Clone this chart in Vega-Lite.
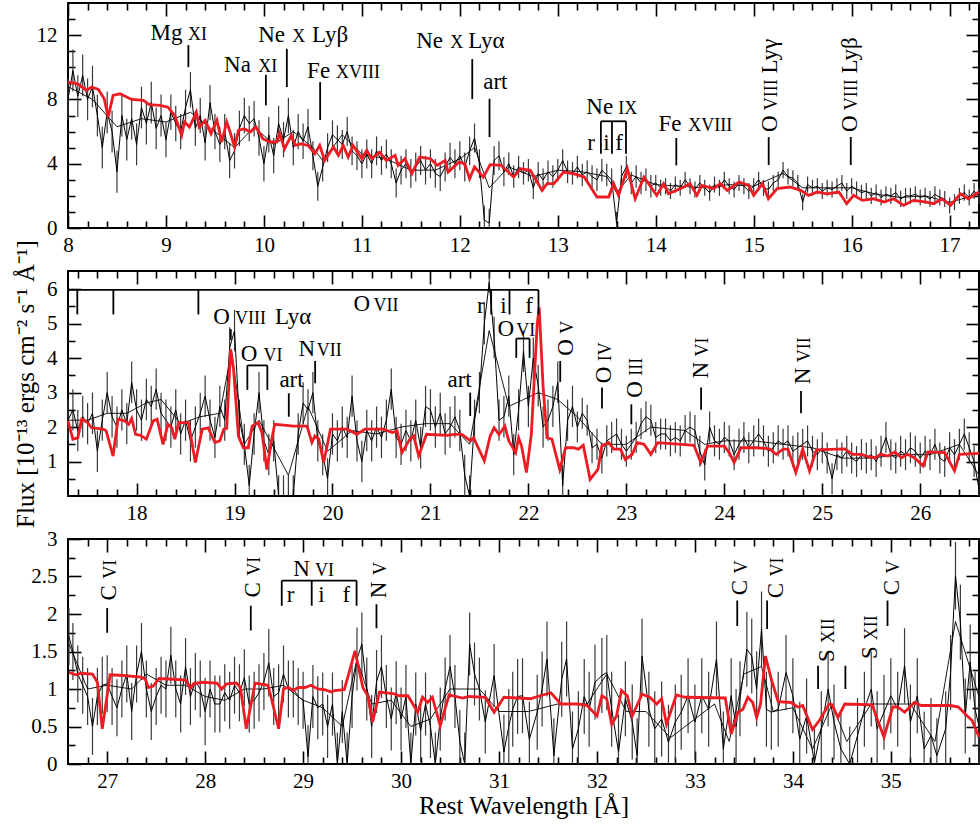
{
"$schema": "https://vega.github.io/schema/vega-lite/v6.json",
"background": "white",
"padding": {"left": 12, "top": 1, "right": 0, "bottom": 0},
"spacing": 43,
"bounds": "flush",
"config": {
 "view": {"stroke": "black", "strokeWidth": 2},
 "axis": {"domain": false, "grid": false, "tickColor": "black", "tickWidth": 1.6, "labelFont": "Liberation Serif", "labelFontSize": 21, "labelColor": "black", "labelFlush": false, "labelOverlap": false, "titleFont": "Liberation Serif", "titleFontSize": 25, "titleFontWeight": "normal", "titleColor": "black"}
},
"datasets": {
"obs": [
{"p":1,"x":8,"y":8.0,"e":1.3},{"p":1,"x":8.05,"y":9.8,"e":1.3},{"p":1,"x":8.1,"y":8.2,"e":1.3},{"p":1,"x":8.15,"y":9.5,"e":1.3},{"p":1,"x":8.2,"y":8.0,"e":1.3},{"p":1,"x":8.25,"y":8.8,"e":1.3},{"p":1,"x":8.3,"y":7.0,"e":1.3},{"p":1,"x":8.35,"y":5.0,"e":1.3},{"p":1,"x":8.4,"y":7.2,"e":1.3},{"p":1,"x":8.45,"y":6.0,"e":1.3},{"p":1,"x":8.5,"y":3.5,"e":1.3},{"p":1,"x":8.55,"y":7.0,"e":1.3},{"p":1,"x":8.6,"y":5.5,"e":1.3},{"p":1,"x":8.65,"y":6.8,"e":1.3},{"p":1,"x":8.7,"y":5.2,"e":1.3},{"p":1,"x":8.75,"y":7.5,"e":1.3},{"p":1,"x":8.8,"y":6.5,"e":1.3},{"p":1,"x":8.85,"y":7.8,"e":1.3},{"p":1,"x":8.9,"y":6.2,"e":1.3},{"p":1,"x":8.95,"y":7.0,"e":1.3},
{"p":1,"x":9,"y":5.5,"e":1.1},{"p":1,"x":9.05,"y":7.2,"e":1.1},{"p":1,"x":9.1,"y":6.5,"e":1.1},{"p":1,"x":9.15,"y":6.0,"e":1.1},{"p":1,"x":9.2,"y":7.5,"e":1.1},{"p":1,"x":9.25,"y":8.6,"e":1.1},{"p":1,"x":9.3,"y":6.2,"e":1.1},{"p":1,"x":9.35,"y":7.0,"e":1.1},{"p":1,"x":9.4,"y":5.3,"e":1.1},{"p":1,"x":9.45,"y":7.8,"e":1.1},{"p":1,"x":9.5,"y":6.0,"e":1.1},{"p":1,"x":9.55,"y":5.2,"e":1.1},{"p":1,"x":9.6,"y":6.0,"e":1.1},{"p":1,"x":9.65,"y":4.2,"e":1.1},{"p":1,"x":9.7,"y":4.8,"e":1.1},{"p":1,"x":9.75,"y":6.2,"e":1.1},{"p":1,"x":9.8,"y":7.0,"e":1.1},{"p":1,"x":9.85,"y":6.5,"e":1.1},{"p":1,"x":9.9,"y":6.8,"e":1.1},{"p":1,"x":9.95,"y":5.6,"e":1.1},{"p":1,"x":10,"y":4.0,"e":1.1},{"p":1,"x":10.05,"y":5.8,"e":1.1},{"p":1,"x":10.1,"y":4.5,"e":1.1},{"p":1,"x":10.15,"y":6.5,"e":1.1},{"p":1,"x":10.2,"y":5.5,"e":1.1},{"p":1,"x":10.25,"y":7.0,"e":1.1},{"p":1,"x":10.3,"y":5.0,"e":1.1},{"p":1,"x":10.35,"y":6.0,"e":1.1},{"p":1,"x":10.4,"y":5.4,"e":1.1},{"p":1,"x":10.45,"y":6.3,"e":1.1},
{"p":1,"x":10.5,"y":4.5,"e":0.9},{"p":1,"x":10.55,"y":2.6,"e":0.9},{"p":1,"x":10.6,"y":3.8,"e":0.9},{"p":1,"x":10.65,"y":5.0,"e":0.9},{"p":1,"x":10.7,"y":5.8,"e":0.9},{"p":1,"x":10.75,"y":5.5,"e":0.9},{"p":1,"x":10.8,"y":5.2,"e":0.9},{"p":1,"x":10.85,"y":6.0,"e":0.9},{"p":1,"x":10.9,"y":4.8,"e":0.9},{"p":1,"x":10.95,"y":4.5,"e":0.9},{"p":1,"x":11,"y":4.0,"e":0.9},{"p":1,"x":11.05,"y":4.6,"e":0.9},{"p":1,"x":11.1,"y":4.0,"e":0.9},{"p":1,"x":11.15,"y":4.8,"e":0.9},{"p":1,"x":11.2,"y":4.2,"e":0.9},{"p":1,"x":11.25,"y":4.6,"e":0.9},{"p":1,"x":11.3,"y":4.0,"e":0.9},{"p":1,"x":11.35,"y":2.8,"e":0.9},{"p":1,"x":11.4,"y":3.6,"e":0.9},{"p":1,"x":11.45,"y":4.0,"e":0.9},{"p":1,"x":11.5,"y":3.4,"e":0.9},{"p":1,"x":11.55,"y":3.8,"e":0.9},{"p":1,"x":11.6,"y":4.2,"e":0.9},{"p":1,"x":11.65,"y":3.6,"e":0.9},{"p":1,"x":11.7,"y":4.0,"e":0.9},{"p":1,"x":11.75,"y":3.4,"e":0.9},{"p":1,"x":11.8,"y":3.2,"e":0.9},{"p":1,"x":11.85,"y":3.8,"e":0.9},{"p":1,"x":11.9,"y":4.4,"e":0.9},{"p":1,"x":11.95,"y":4.0,"e":0.9},{"p":1,"x":12,"y":4.5,"e":0.9},{"p":1,"x":12.05,"y":3.8,"e":0.9},{"p":1,"x":12.1,"y":4.8,"e":0.9},{"p":1,"x":12.15,"y":5.6,"e":0.9},{"p":1,"x":12.2,"y":4.0,"e":0.9},{"p":1,"x":12.25,"y":0.5,"e":0.9},{"p":1,"x":12.3,"y":0.3,"e":0.9},{"p":1,"x":12.35,"y":4.2,"e":0.9},{"p":1,"x":12.4,"y":4.5,"e":0.9},{"p":1,"x":12.45,"y":3.5,"e":0.9},
{"p":1,"x":12.5,"y":4.0,"e":0.7},{"p":1,"x":12.55,"y":3.2,"e":0.7},{"p":1,"x":12.6,"y":3.8,"e":0.7},{"p":1,"x":12.65,"y":3.4,"e":0.7},{"p":1,"x":12.7,"y":3.6,"e":0.7},{"p":1,"x":12.75,"y":2.5,"e":0.7},{"p":1,"x":12.8,"y":3.4,"e":0.7},{"p":1,"x":12.85,"y":3.0,"e":0.7},{"p":1,"x":12.9,"y":3.5,"e":0.7},{"p":1,"x":12.95,"y":3.2,"e":0.7},{"p":1,"x":13,"y":3.6,"e":0.7},{"p":1,"x":13.05,"y":4.2,"e":0.7},{"p":1,"x":13.1,"y":3.5,"e":0.7},{"p":1,"x":13.15,"y":3.4,"e":0.7},{"p":1,"x":13.2,"y":3.8,"e":0.7},{"p":1,"x":13.25,"y":3.3,"e":0.7},{"p":1,"x":13.3,"y":3.5,"e":0.7},{"p":1,"x":13.35,"y":3.2,"e":0.7},{"p":1,"x":13.4,"y":3.0,"e":0.7},{"p":1,"x":13.45,"y":3.6,"e":0.7},{"p":1,"x":13.5,"y":3.3,"e":0.7},{"p":1,"x":13.55,"y":3.0,"e":0.7},{"p":1,"x":13.6,"y":0.3,"e":0.7},{"p":1,"x":13.65,"y":3.2,"e":0.7},{"p":1,"x":13.7,"y":3.8,"e":0.7},{"p":1,"x":13.75,"y":2.8,"e":0.7},{"p":1,"x":13.8,"y":3.2,"e":0.7},{"p":1,"x":13.85,"y":2.8,"e":0.7},{"p":1,"x":13.9,"y":3.0,"e":0.7},{"p":1,"x":13.95,"y":2.6,"e":0.7},
{"p":1,"x":14,"y":2.8,"e":0.5},{"p":1,"x":14.05,"y":2.5,"e":0.5},{"p":1,"x":14.1,"y":2.6,"e":0.5},{"p":1,"x":14.15,"y":2.3,"e":0.5},{"p":1,"x":14.2,"y":2.7,"e":0.5},{"p":1,"x":14.25,"y":2.5,"e":0.5},{"p":1,"x":14.3,"y":3.0,"e":0.5},{"p":1,"x":14.35,"y":2.6,"e":0.5},{"p":1,"x":14.4,"y":2.4,"e":0.5},{"p":1,"x":14.45,"y":2.8,"e":0.5},{"p":1,"x":14.5,"y":2.5,"e":0.5},{"p":1,"x":14.55,"y":2.2,"e":0.5},{"p":1,"x":14.6,"y":2.7,"e":0.5},{"p":1,"x":14.65,"y":2.5,"e":0.5},{"p":1,"x":14.7,"y":3.0,"e":0.5},{"p":1,"x":14.75,"y":2.6,"e":0.5},{"p":1,"x":14.8,"y":2.4,"e":0.5},{"p":1,"x":14.85,"y":2.8,"e":0.5},{"p":1,"x":14.9,"y":2.6,"e":0.5},{"p":1,"x":14.95,"y":2.3,"e":0.5},{"p":1,"x":15,"y":2.6,"e":0.5},{"p":1,"x":15.05,"y":3.0,"e":0.5},{"p":1,"x":15.1,"y":2.5,"e":0.5},{"p":1,"x":15.15,"y":2.4,"e":0.5},{"p":1,"x":15.2,"y":2.8,"e":0.5},{"p":1,"x":15.25,"y":3.0,"e":0.5},{"p":1,"x":15.3,"y":3.6,"e":0.5},{"p":1,"x":15.35,"y":3.2,"e":0.5},{"p":1,"x":15.4,"y":3.1,"e":0.5},{"p":1,"x":15.45,"y":2.8,"e":0.5},{"p":1,"x":15.5,"y":1.6,"e":0.5},{"p":1,"x":15.55,"y":2.7,"e":0.5},{"p":1,"x":15.6,"y":2.5,"e":0.5},{"p":1,"x":15.65,"y":2.6,"e":0.5},{"p":1,"x":15.7,"y":2.3,"e":0.5},{"p":1,"x":15.75,"y":2.5,"e":0.5},{"p":1,"x":15.8,"y":2.4,"e":0.5},{"p":1,"x":15.85,"y":2.6,"e":0.5},{"p":1,"x":15.9,"y":2.8,"e":0.5},{"p":1,"x":15.95,"y":2.3,"e":0.5},{"p":1,"x":16,"y":2.6,"e":0.5},{"p":1,"x":16.05,"y":2.4,"e":0.5},{"p":1,"x":16.1,"y":2.2,"e":0.5},{"p":1,"x":16.15,"y":2.3,"e":0.5},{"p":1,"x":16.2,"y":2.0,"e":0.5},{"p":1,"x":16.25,"y":2.2,"e":0.5},{"p":1,"x":16.3,"y":1.9,"e":0.5},{"p":1,"x":16.35,"y":2.1,"e":0.5},{"p":1,"x":16.4,"y":2.0,"e":0.5},{"p":1,"x":16.45,"y":2.2,"e":0.5},{"p":1,"x":16.5,"y":1.8,"e":0.5},{"p":1,"x":16.55,"y":2.0,"e":0.5},{"p":1,"x":16.6,"y":2.0,"e":0.5},{"p":1,"x":16.65,"y":2.1,"e":0.5},{"p":1,"x":16.7,"y":1.9,"e":0.5},{"p":1,"x":16.75,"y":2.0,"e":0.5},{"p":1,"x":16.8,"y":1.8,"e":0.5},{"p":1,"x":16.85,"y":2.1,"e":0.5},{"p":1,"x":16.9,"y":1.9,"e":0.5},{"p":1,"x":16.95,"y":1.8,"e":0.5},{"p":1,"x":17,"y":1.4,"e":0.5},{"p":1,"x":17.05,"y":1.6,"e":0.5},{"p":1,"x":17.1,"y":2.0,"e":0.5},{"p":1,"x":17.15,"y":2.2,"e":0.5},{"p":1,"x":17.2,"y":1.9,"e":0.5},{"p":1,"x":17.25,"y":2.3,"e":0.5},{"p":1,"x":17.3,"y":2.0,"e":0.5},
{"p":2,"x":17.3,"y":2.2,"e":0.6},{"p":2,"x":17.35,"y":2.5,"e":0.6},{"p":2,"x":17.4,"y":1.9,"e":0.6},{"p":2,"x":17.45,"y":2.3,"e":0.6},{"p":2,"x":17.5,"y":2.1,"e":0.6},{"p":2,"x":17.55,"y":2.4,"e":0.6},{"p":2,"x":17.6,"y":1.3,"e":0.6},{"p":2,"x":17.65,"y":2.2,"e":0.6},{"p":2,"x":17.7,"y":3.0,"e":0.6},{"p":2,"x":17.75,"y":2.3,"e":0.6},{"p":2,"x":17.8,"y":2.0,"e":0.6},{"p":2,"x":17.85,"y":2.5,"e":0.6},{"p":2,"x":17.9,"y":2.1,"e":0.6},{"p":2,"x":17.95,"y":3.3,"e":0.6},{"p":2,"x":18,"y":2.5,"e":0.6},{"p":2,"x":18.05,"y":2.2,"e":0.6},{"p":2,"x":18.1,"y":2.8,"e":0.6},{"p":2,"x":18.15,"y":2.6,"e":0.6},{"p":2,"x":18.2,"y":3.1,"e":0.6},{"p":2,"x":18.25,"y":2.4,"e":0.6},{"p":2,"x":18.3,"y":2.2,"e":0.6},{"p":2,"x":18.35,"y":2.0,"e":0.6},{"p":2,"x":18.4,"y":2.5,"e":0.6},{"p":2,"x":18.45,"y":1.8,"e":0.6},{"p":2,"x":18.5,"y":2.2,"e":0.6},{"p":2,"x":18.55,"y":1.6,"e":0.6},{"p":2,"x":18.6,"y":2.0,"e":0.6},{"p":2,"x":18.65,"y":2.4,"e":0.6},{"p":2,"x":18.7,"y":2.9,"e":0.6},{"p":2,"x":18.75,"y":2.2,"e":0.6},{"p":2,"x":18.8,"y":1.7,"e":0.6},{"p":2,"x":18.85,"y":2.6,"e":0.6},{"p":2,"x":18.9,"y":2.2,"e":0.6},{"p":2,"x":18.95,"y":4.3,"e":0.6},{"p":2,"x":19,"y":4.8,"e":0.6},{"p":2,"x":19.05,"y":2.2,"e":0.6},{"p":2,"x":19.1,"y":1.5,"e":0.6},{"p":2,"x":19.15,"y":0.3,"e":0.6},{"p":2,"x":19.2,"y":1.8,"e":0.6},{"p":2,"x":19.25,"y":3.0,"e":0.6},{"p":2,"x":19.3,"y":1.6,"e":0.6},{"p":2,"x":19.35,"y":1.2,"e":0.6},{"p":2,"x":19.4,"y":1.6,"e":0.6},{"p":2,"x":19.45,"y":0.0,"e":0.6},{"p":2,"x":19.5,"y":0.0,"e":0.6},{"p":2,"x":19.55,"y":0.0,"e":0.6},{"p":2,"x":19.6,"y":0.0,"e":0.6},{"p":2,"x":19.65,"y":1.8,"e":0.6},{"p":2,"x":19.7,"y":2.7,"e":0.6},{"p":2,"x":19.75,"y":2.5,"e":0.6},{"p":2,"x":19.8,"y":3.0,"e":0.6},{"p":2,"x":19.85,"y":1.6,"e":0.6},{"p":2,"x":19.9,"y":1.2,"e":0.6},{"p":2,"x":19.95,"y":0.5,"e":0.6},{"p":2,"x":20,"y":1.8,"e":0.6},{"p":2,"x":20.05,"y":1.6,"e":0.6},{"p":2,"x":20.1,"y":2.0,"e":0.6},{"p":2,"x":20.15,"y":1.7,"e":0.6},{"p":2,"x":20.2,"y":2.9,"e":0.6},{"p":2,"x":20.25,"y":1.6,"e":0.6},{"p":2,"x":20.3,"y":1.0,"e":0.6},{"p":2,"x":20.35,"y":1.9,"e":0.6},{"p":2,"x":20.4,"y":1.6,"e":0.6},{"p":2,"x":20.45,"y":2.0,"e":0.6},{"p":2,"x":20.5,"y":1.7,"e":0.6},{"p":2,"x":20.55,"y":2.2,"e":0.6},{"p":2,"x":20.6,"y":3.1,"e":0.6},{"p":2,"x":20.65,"y":1.7,"e":0.6},{"p":2,"x":20.7,"y":1.5,"e":0.6},{"p":2,"x":20.75,"y":1.9,"e":0.6},{"p":2,"x":20.8,"y":1.6,"e":0.6},{"p":2,"x":20.85,"y":2.2,"e":0.6},{"p":2,"x":20.9,"y":1.4,"e":0.6},{"p":2,"x":20.95,"y":2.6,"e":0.6},{"p":2,"x":21,"y":2.5,"e":0.6},{"p":2,"x":21.05,"y":2.0,"e":0.6},{"p":2,"x":21.1,"y":2.4,"e":0.6},{"p":2,"x":21.15,"y":1.8,"e":0.6},{"p":2,"x":21.2,"y":2.0,"e":0.6},{"p":2,"x":21.25,"y":2.3,"e":0.6},{"p":2,"x":21.3,"y":1.9,"e":0.6},{"p":2,"x":21.35,"y":0.6,"e":0.6},{"p":2,"x":21.4,"y":0.0,"e":0.6},{"p":2,"x":21.45,"y":2.2,"e":0.6},{"p":2,"x":21.5,"y":3.0,"e":0.6},{"p":2,"x":21.55,"y":5.0,"e":0.6},{"p":2,"x":21.6,"y":6.2,"e":0.3},{"p":2,"x":21.65,"y":4.6,"e":0.6},{"p":2,"x":21.7,"y":2.2,"e":0.6},{"p":2,"x":21.75,"y":2.3,"e":0.6},{"p":2,"x":21.8,"y":2.9,"e":0.6},{"p":2,"x":21.85,"y":1.2,"e":0.6},{"p":2,"x":21.9,"y":2.5,"e":0.6},{"p":2,"x":21.95,"y":4.2,"e":0.6},{"p":2,"x":22,"y":2.6,"e":0.6},{"p":2,"x":22.05,"y":4.0,"e":0.6},{"p":2,"x":22.1,"y":3.2,"e":0.6},{"p":2,"x":22.15,"y":2.0,"e":0.6},{"p":2,"x":22.2,"y":2.2,"e":0.6},{"p":2,"x":22.25,"y":2.6,"e":0.6},{"p":2,"x":22.3,"y":3.3,"e":0.6},{"p":2,"x":22.35,"y":0.3,"e":0.6},{"p":2,"x":22.4,"y":2.2,"e":0.6},{"p":2,"x":22.45,"y":2.6,"e":0.6},
{"p":2,"x":22.5,"y":2.0,"e":0.45},{"p":2,"x":22.55,"y":2.4,"e":0.45},{"p":2,"x":22.6,"y":2.2,"e":0.45},{"p":2,"x":22.65,"y":1.4,"e":0.45},{"p":2,"x":22.7,"y":1.5,"e":0.45},{"p":2,"x":22.75,"y":1.1,"e":0.45},{"p":2,"x":22.8,"y":1.6,"e":0.45},{"p":2,"x":22.85,"y":1.7,"e":0.45},{"p":2,"x":22.9,"y":1.8,"e":0.45},{"p":2,"x":22.95,"y":1.5,"e":0.45},{"p":2,"x":23,"y":1.3,"e":0.45},{"p":2,"x":23.05,"y":1.5,"e":0.45},{"p":2,"x":23.1,"y":1.7,"e":0.45},{"p":2,"x":23.15,"y":2.1,"e":0.45},{"p":2,"x":23.2,"y":2.3,"e":0.45},{"p":2,"x":23.25,"y":2.2,"e":0.45},{"p":2,"x":23.3,"y":1.7,"e":0.45},{"p":2,"x":23.35,"y":1.8,"e":0.45},{"p":2,"x":23.4,"y":1.8,"e":0.45},{"p":2,"x":23.45,"y":1.6,"e":0.45},{"p":2,"x":23.5,"y":1.7,"e":0.45},{"p":2,"x":23.55,"y":1.6,"e":0.45},{"p":2,"x":23.6,"y":1.9,"e":0.45},{"p":2,"x":23.65,"y":2.0,"e":0.45},{"p":2,"x":23.7,"y":1.9,"e":0.45},{"p":2,"x":23.75,"y":1.3,"e":0.45},{"p":2,"x":23.8,"y":0.9,"e":0.45},{"p":2,"x":23.85,"y":2.0,"e":0.45},{"p":2,"x":23.9,"y":1.6,"e":0.45},{"p":2,"x":23.95,"y":1.5,"e":0.45},{"p":2,"x":24,"y":1.7,"e":0.45},{"p":2,"x":24.05,"y":1.6,"e":0.45},{"p":2,"x":24.1,"y":1.2,"e":0.45},{"p":2,"x":24.15,"y":1.5,"e":0.45},{"p":2,"x":24.2,"y":1.7,"e":0.45},{"p":2,"x":24.25,"y":1.4,"e":0.45},{"p":2,"x":24.3,"y":1.6,"e":0.45},{"p":2,"x":24.35,"y":1.8,"e":0.45},{"p":2,"x":24.4,"y":1.6,"e":0.45},{"p":2,"x":24.45,"y":1.3,"e":0.45},{"p":2,"x":24.5,"y":1.4,"e":0.45},{"p":2,"x":24.55,"y":1.6,"e":0.45},{"p":2,"x":24.6,"y":1.5,"e":0.45},{"p":2,"x":24.65,"y":1.6,"e":0.45},{"p":2,"x":24.7,"y":1.3,"e":0.45},{"p":2,"x":24.75,"y":1.4,"e":0.45},{"p":2,"x":24.8,"y":1.5,"e":0.45},{"p":2,"x":24.85,"y":1.6,"e":0.45},{"p":2,"x":24.9,"y":1.3,"e":0.45},{"p":2,"x":24.95,"y":1.2,"e":0.45},{"p":2,"x":25,"y":1.4,"e":0.45},{"p":2,"x":25.05,"y":1.1,"e":0.45},{"p":2,"x":25.1,"y":0.5,"e":0.45},{"p":2,"x":25.15,"y":1.2,"e":0.45},{"p":2,"x":25.2,"y":1.1,"e":0.45},{"p":2,"x":25.25,"y":1.3,"e":0.45},{"p":2,"x":25.3,"y":1.1,"e":0.45},{"p":2,"x":25.35,"y":1.0,"e":0.45},{"p":2,"x":25.4,"y":1.2,"e":0.45},{"p":2,"x":25.45,"y":1.1,"e":0.45},{"p":2,"x":25.5,"y":1.2,"e":0.45},{"p":2,"x":25.55,"y":1.0,"e":0.45},{"p":2,"x":25.6,"y":1.3,"e":0.45},{"p":2,"x":25.65,"y":1.7,"e":0.45},{"p":2,"x":25.7,"y":1.2,"e":0.45},{"p":2,"x":25.75,"y":1.1,"e":0.45},{"p":2,"x":25.8,"y":1.3,"e":0.45},{"p":2,"x":25.85,"y":1.2,"e":0.45},{"p":2,"x":25.9,"y":1.4,"e":0.45},{"p":2,"x":25.95,"y":1.3,"e":0.45},{"p":2,"x":26,"y":1.1,"e":0.45},{"p":2,"x":26.05,"y":1.3,"e":0.45},{"p":2,"x":26.1,"y":1.2,"e":0.45},{"p":2,"x":26.15,"y":1.5,"e":0.45},{"p":2,"x":26.2,"y":1.1,"e":0.45},{"p":2,"x":26.25,"y":1.0,"e":0.45},{"p":2,"x":26.3,"y":1.4,"e":0.45},{"p":2,"x":26.35,"y":1.2,"e":0.45},{"p":2,"x":26.4,"y":1.5,"e":0.45},{"p":2,"x":26.45,"y":1.8,"e":0.45},{"p":2,"x":26.5,"y":1.4,"e":0.45},{"p":2,"x":26.55,"y":1.0,"e":0.45},{"p":2,"x":26.6,"y":0.2,"e":0.45},
{"p":3,"x":26.61,"y":1.7,"e":0.38},{"p":3,"x":26.65,"y":1.5,"e":0.38},{"p":3,"x":26.7,"y":1.2,"e":0.38},{"p":3,"x":26.75,"y":1.05,"e":0.38},{"p":3,"x":26.8,"y":0.9,"e":0.38},{"p":3,"x":26.85,"y":0.5,"e":0.38},{"p":3,"x":26.9,"y":0.9,"e":0.38},{"p":3,"x":26.95,"y":1.05,"e":0.38},{"p":3,"x":27,"y":1.07,"e":0.38},{"p":3,"x":27.05,"y":0.9,"e":0.38},{"p":3,"x":27.1,"y":0.75,"e":0.38},{"p":3,"x":27.15,"y":1.0,"e":0.38},{"p":3,"x":27.2,"y":1.2,"e":0.38},{"p":3,"x":27.25,"y":0.7,"e":0.38},{"p":3,"x":27.3,"y":1.2,"e":0.38},{"p":3,"x":27.35,"y":1.5,"e":0.38},{"p":3,"x":27.4,"y":1.0,"e":0.38},{"p":3,"x":27.45,"y":0.7,"e":0.38},{"p":3,"x":27.5,"y":0.9,"e":0.38},{"p":3,"x":27.55,"y":1.05,"e":0.38},{"p":3,"x":27.6,"y":1.0,"e":0.38},{"p":3,"x":27.65,"y":1.45,"e":0.38},{"p":3,"x":27.7,"y":1.0,"e":0.38},{"p":3,"x":27.75,"y":0.8,"e":0.38},{"p":3,"x":27.8,"y":1.3,"e":0.38},{"p":3,"x":27.85,"y":0.9,"e":0.38},{"p":3,"x":27.9,"y":1.1,"e":0.38},{"p":3,"x":27.95,"y":1.0,"e":0.38},{"p":3,"x":28,"y":0.7,"e":0.45},{"p":3,"x":28.05,"y":1.0,"e":0.38},{"p":3,"x":28.1,"y":0.8,"e":0.38},{"p":3,"x":28.15,"y":0.8,"e":0.38},{"p":3,"x":28.2,"y":0.95,"e":0.38},{"p":3,"x":28.25,"y":0.85,"e":0.38},{"p":3,"x":28.3,"y":1.05,"e":0.38},{"p":3,"x":28.35,"y":0.95,"e":0.38},{"p":3,"x":28.4,"y":1.15,"e":0.38},{"p":3,"x":28.45,"y":0.8,"e":0.38},{"p":3,"x":28.5,"y":0.85,"e":0.38},{"p":3,"x":28.55,"y":0.95,"e":0.38},{"p":3,"x":28.6,"y":1.1,"e":0.38},{"p":3,"x":28.65,"y":1.35,"e":0.45},{"p":3,"x":28.7,"y":0.9,"e":0.38},{"p":3,"x":28.75,"y":0.95,"e":0.38},{"p":3,"x":28.8,"y":1.2,"e":0.38},{"p":3,"x":28.85,"y":1.0,"e":0.38},{"p":3,"x":28.9,"y":1.0,"e":0.38},{"p":3,"x":28.95,"y":0.9,"e":0.38},{"p":3,"x":29,"y":0.85,"e":0.38},
{"p":3,"x":29.05,"y":0.1,"e":0.42},{"p":3,"x":29.1,"y":0.9,"e":0.42},{"p":3,"x":29.15,"y":0.75,"e":0.42},{"p":3,"x":29.2,"y":0.8,"e":0.42},{"p":3,"x":29.25,"y":0.5,"e":0.42},{"p":3,"x":29.3,"y":0.8,"e":0.42},{"p":3,"x":29.35,"y":0.0,"e":0.42},{"p":3,"x":29.4,"y":0.7,"e":0.42},{"p":3,"x":29.45,"y":0.0,"e":0.42},{"p":3,"x":29.5,"y":0.9,"e":0.42},{"p":3,"x":29.55,"y":1.4,"e":0.42},{"p":3,"x":29.6,"y":1.6,"e":0.42},{"p":3,"x":29.65,"y":1.0,"e":0.42},{"p":3,"x":29.7,"y":0.5,"e":0.42},{"p":3,"x":29.75,"y":1.1,"e":0.42},{"p":3,"x":29.8,"y":1.3,"e":0.42},{"p":3,"x":29.85,"y":0.9,"e":0.42},{"p":3,"x":29.9,"y":0.6,"e":0.42},{"p":3,"x":29.95,"y":0.95,"e":0.42},{"p":3,"x":30,"y":0.6,"e":0.42},{"p":3,"x":30.05,"y":0.9,"e":0.42},{"p":3,"x":30.1,"y":0.0,"e":0.42},{"p":3,"x":30.15,"y":0.8,"e":0.42},{"p":3,"x":30.2,"y":0.45,"e":0.42},{"p":3,"x":30.25,"y":0.8,"e":0.42},{"p":3,"x":30.3,"y":0.5,"e":0.42},{"p":3,"x":30.35,"y":0.0,"e":0.42},{"p":3,"x":30.4,"y":0.6,"e":0.42},{"p":3,"x":30.45,"y":1.0,"e":0.42},{"p":3,"x":30.5,"y":1.3,"e":0.42},{"p":3,"x":30.55,"y":0.9,"e":0.42},{"p":3,"x":30.6,"y":0.3,"e":0.42},{"p":3,"x":30.65,"y":0.0,"e":0.42},{"p":3,"x":30.7,"y":1.6,"e":0.42},{"p":3,"x":30.75,"y":1.2,"e":0.42},{"p":3,"x":30.8,"y":1.0,"e":0.42},{"p":3,"x":30.86,"y":0.56,"e":0.42},{"p":3,"x":30.95,"y":1.18,"e":0.42},
{"p":3,"x":31.05,"y":0.16,"e":0.5},{"p":3,"x":31.1,"y":0.5,"e":0.5},{"p":3,"x":31.14,"y":0.73,"e":0.5},{"p":3,"x":31.19,"y":0.9,"e":0.5},{"p":3,"x":31.24,"y":0.91,"e":0.5},{"p":3,"x":31.31,"y":0.33,"e":0.5},{"p":3,"x":31.39,"y":0.69,"e":0.5},{"p":3,"x":31.44,"y":1.0,"e":0.5},{"p":3,"x":31.49,"y":1.4,"e":0.5},{"p":3,"x":31.56,"y":0.11,"e":0.5},{"p":3,"x":31.64,"y":1.13,"e":0.5},{"p":3,"x":31.69,"y":1.4,"e":0.5},{"p":3,"x":31.75,"y":0.2,"e":0.5},{"p":3,"x":31.81,"y":0.47,"e":0.5},{"p":3,"x":31.87,"y":0.9,"e":0.5},{"p":3,"x":31.92,"y":0.73,"e":0.5},{"p":3,"x":31.98,"y":1.09,"e":0.5},{"p":3,"x":32.05,"y":1.18,"e":0.5},{"p":3,"x":32.1,"y":1.22,"e":0.5},{"p":3,"x":32.15,"y":0.73,"e":0.5},{"p":3,"x":32.22,"y":0.16,"e":0.5},{"p":3,"x":32.29,"y":0.87,"e":0.5},{"p":3,"x":32.36,"y":0.56,"e":0.5},{"p":3,"x":32.41,"y":0.11,"e":0.5},{"p":3,"x":32.46,"y":1.44,"e":0.5},{"p":3,"x":32.53,"y":0.73,"e":0.5},{"p":3,"x":32.59,"y":0.47,"e":0.5},{"p":3,"x":32.66,"y":0.6,"e":0.5},{"p":3,"x":32.73,"y":0.29,"e":0.5},{"p":3,"x":32.8,"y":0.56,"e":0.5},{"p":3,"x":32.86,"y":0.69,"e":0.5},{"p":3,"x":32.93,"y":0.91,"e":0.5},{"p":3,"x":33,"y":0.56,"e":0.5},{"p":3,"x":33.07,"y":0.91,"e":0.5},{"p":3,"x":33.14,"y":0.73,"e":0.5},{"p":3,"x":33.22,"y":1.4,"e":0.5},{"p":3,"x":33.29,"y":0.2,"e":0.5},{"p":3,"x":33.37,"y":0.91,"e":0.5},{"p":3,"x":33.42,"y":0.5,"e":0.5},{"p":3,"x":33.46,"y":0.87,"e":0.5},{"p":3,"x":33.53,"y":1.53,"e":0.5},{"p":3,"x":33.58,"y":1.44,"e":0.5},{"p":3,"x":33.63,"y":1.0,"e":0.5},{"p":3,"x":33.68,"y":1.8,"e":0.5},{"p":3,"x":33.73,"y":0.73,"e":0.5},{"p":3,"x":33.78,"y":0.69,"e":0.5},{"p":3,"x":33.85,"y":0.73,"e":0.5},{"p":3,"x":33.93,"y":1.22,"e":0.5},{"p":3,"x":34,"y":0.91,"e":0.5},{"p":3,"x":34.07,"y":0.33,"e":0.5},{"p":3,"x":34.14,"y":0.64,"e":0.5},{"p":3,"x":34.22,"y":0.02,"e":0.5},{"p":3,"x":34.29,"y":0.47,"e":0.5},{"p":3,"x":34.36,"y":1.0,"e":0.5},{"p":3,"x":34.42,"y":0.56,"e":0.5},{"p":3,"x":34.49,"y":0.2,"e":0.5},{"p":3,"x":34.58,"y":0.0,"e":0.5},{"p":3,"x":34.66,"y":0.38,"e":0.5},{"p":3,"x":34.73,"y":0.73,"e":0.5},{"p":3,"x":34.8,"y":1.0,"e":0.5},{"p":3,"x":34.86,"y":0.47,"e":0.5},{"p":3,"x":34.93,"y":0.69,"e":0.5},{"p":3,"x":35,"y":0.91,"e":0.5},{"p":3,"x":35.07,"y":0.73,"e":0.5},{"p":3,"x":35.14,"y":1.31,"e":0.5},{"p":3,"x":35.2,"y":0.56,"e":0.5},{"p":3,"x":35.27,"y":0.91,"e":0.5},{"p":3,"x":35.34,"y":0.2,"e":0.5},{"p":3,"x":35.41,"y":0.38,"e":0.5},{"p":3,"x":35.47,"y":0.11,"e":0.5},{"p":3,"x":35.56,"y":0.47,"e":0.5},{"p":3,"x":35.61,"y":1.22,"e":0.5},{"p":3,"x":35.66,"y":2.51,"e":0.45},{"p":3,"x":35.71,"y":1.89,"e":0.5},{"p":3,"x":35.76,"y":0.64,"e":0.5},{"p":3,"x":35.81,"y":1.36,"e":0.5},{"p":3,"x":35.86,"y":0.73,"e":0.5},{"p":3,"x":35.9,"y":0.5,"e":0.5}
],
"smooth": [
{"p":1,"x":8,"y":8.8},{"p":1,"x":8.25,"y":8.0},{"p":1,"x":8.5,"y":6.3},{"p":1,"x":8.75,"y":6.8},{"p":1,"x":9,"y":6.6},{"p":1,"x":9.25,"y":7.2},{"p":1,"x":9.5,"y":6.0},{"p":1,"x":9.7,"y":5.0},{"p":1,"x":9.9,"y":6.3},{"p":1,"x":10.1,"y":5.2},{"p":1,"x":10.3,"y":6.0},{"p":1,"x":10.5,"y":5.0},{"p":1,"x":10.6,"y":4.2},{"p":1,"x":10.8,"y":5.8},{"p":1,"x":11,"y":4.6},{"p":1,"x":11.25,"y":4.3},{"p":1,"x":11.5,"y":3.6},{"p":1,"x":11.75,"y":3.6},{"p":1,"x":12,"y":4.3},{"p":1,"x":12.15,"y":5.0},{"p":1,"x":12.3,"y":2.5},{"p":1,"x":12.5,"y":3.8},{"p":1,"x":12.75,"y":3.2},{"p":1,"x":13,"y":3.6},{"p":1,"x":13.25,"y":3.5},{"p":1,"x":13.5,"y":3.2},{"p":1,"x":13.6,"y":2.2},{"p":1,"x":13.75,"y":3.3},{"p":1,"x":14,"y":2.7},{"p":1,"x":14.25,"y":2.6},{"p":1,"x":14.5,"y":2.5},{"p":1,"x":14.75,"y":2.7},{"p":1,"x":15,"y":2.6},{"p":1,"x":15.3,"y":3.4},{"p":1,"x":15.5,"y":2.5},{"p":1,"x":15.75,"y":2.5},{"p":1,"x":16,"y":2.5},{"p":1,"x":16.25,"y":2.1},{"p":1,"x":16.5,"y":1.9},{"p":1,"x":16.75,"y":2.0},{"p":1,"x":17,"y":1.6},{"p":1,"x":17.3,"y":2.1},
{"p":2,"x":17.3,"y":2.2},{"p":2,"x":17.5,"y":2.2},{"p":2,"x":17.7,"y":2.4},{"p":2,"x":17.9,"y":2.4},{"p":2,"x":18.1,"y":2.7},{"p":2,"x":18.25,"y":2.8},{"p":2,"x":18.45,"y":2.1},{"p":2,"x":18.65,"y":2.3},{"p":2,"x":18.85,"y":2.4},{"p":2,"x":18.97,"y":4.2},{"p":2,"x":19.1,"y":1.5},{"p":2,"x":19.25,"y":2.2},{"p":2,"x":19.4,"y":1.4},{"p":2,"x":19.55,"y":0.6},{"p":2,"x":19.75,"y":2.6},{"p":2,"x":19.95,"y":1.3},{"p":2,"x":20.2,"y":1.9},{"p":2,"x":20.45,"y":1.8},{"p":2,"x":20.7,"y":2.0},{"p":2,"x":20.95,"y":2.1},{"p":2,"x":21.2,"y":2.1},{"p":2,"x":21.4,"y":1.5},{"p":2,"x":21.6,"y":4.8},{"p":2,"x":21.8,"y":2.6},{"p":2,"x":21.95,"y":2.8},{"p":2,"x":22.1,"y":3.0},{"p":2,"x":22.3,"y":2.8},{"p":2,"x":22.5,"y":2.3},{"p":2,"x":22.75,"y":1.5},{"p":2,"x":23,"y":1.5},{"p":2,"x":23.25,"y":2.0},{"p":2,"x":23.6,"y":1.9},{"p":2,"x":23.8,"y":1.5},{"p":2,"x":24,"y":1.6},{"p":2,"x":24.3,"y":1.6},{"p":2,"x":24.6,"y":1.5},{"p":2,"x":24.9,"y":1.4},{"p":2,"x":25.2,"y":1.1},{"p":2,"x":25.5,"y":1.1},{"p":2,"x":25.8,"y":1.2},{"p":2,"x":26.1,"y":1.2},{"p":2,"x":26.4,"y":1.5},{"p":2,"x":26.6,"y":0.6},
{"p":3,"x":26.61,"y":1.6},{"p":3,"x":26.8,"y":1.0},{"p":3,"x":27,"y":1.05},{"p":3,"x":27.25,"y":1.0},{"p":3,"x":27.4,"y":1.2},{"p":3,"x":27.6,"y":1.05},{"p":3,"x":27.8,"y":1.05},{"p":3,"x":28,"y":0.9},{"p":3,"x":28.2,"y":0.85},{"p":3,"x":28.4,"y":1.0},{"p":3,"x":28.6,"y":1.0},{"p":3,"x":28.8,"y":1.05},{"p":3,"x":29,"y":0.85},{"p":3,"x":29.2,"y":0.75},{"p":3,"x":29.4,"y":0.5},{"p":3,"x":29.55,"y":1.4},{"p":3,"x":29.7,"y":0.8},{"p":3,"x":29.9,"y":0.85},{"p":3,"x":30.1,"y":0.5},{"p":3,"x":30.3,"y":0.6},{"p":3,"x":30.5,"y":1.0},{"p":3,"x":30.65,"y":1.0},{"p":3,"x":30.8,"y":1.0},{"p":3,"x":31,"y":0.7},{"p":3,"x":31.3,"y":0.7},{"p":3,"x":31.6,"y":0.8},{"p":3,"x":31.9,"y":0.8},{"p":3,"x":32.1,"y":1.2},{"p":3,"x":32.3,"y":0.7},{"p":3,"x":32.5,"y":0.7},{"p":3,"x":32.75,"y":0.35},{"p":3,"x":33,"y":0.6},{"p":3,"x":33.2,"y":0.8},{"p":3,"x":33.35,"y":0.3},{"p":3,"x":33.5,"y":1.2},{"p":3,"x":33.68,"y":1.3},{"p":3,"x":33.8,"y":0.7},{"p":3,"x":34,"y":0.75},{"p":3,"x":34.2,"y":0.2},{"p":3,"x":34.4,"y":0.8},{"p":3,"x":34.55,"y":0.3},{"p":3,"x":34.8,"y":0.8},{"p":3,"x":35,"y":0.8},{"p":3,"x":35.2,"y":0.8},{"p":3,"x":35.45,"y":0.3},{"p":3,"x":35.66,"y":1.9},{"p":3,"x":35.9,"y":0.9}
],
"model": [
{"p":1,"x":8,"y":9.08},{"p":1,"x":8.1,"y":8.97},{"p":1,"x":8.19,"y":8.56},{"p":1,"x":8.24,"y":8.77},{"p":1,"x":8.31,"y":8.62},{"p":1,"x":8.37,"y":8.04},{"p":1,"x":8.41,"y":6.9},{"p":1,"x":8.46,"y":8.25},{"p":1,"x":8.53,"y":8.35},{"p":1,"x":8.65,"y":8.0},{"p":1,"x":8.77,"y":7.94},{"p":1,"x":8.83,"y":7.67},{"p":1,"x":8.94,"y":7.63},{"p":1,"x":9.02,"y":7.52},{"p":1,"x":9.09,"y":7.0},{"p":1,"x":9.16,"y":5.76},{"p":1,"x":9.19,"y":6.6},{"p":1,"x":9.24,"y":6.28},{"p":1,"x":9.31,"y":7.2},{"p":1,"x":9.34,"y":6.28},{"p":1,"x":9.4,"y":6.7},{"p":1,"x":9.46,"y":5.87},{"p":1,"x":9.52,"y":6.7},{"p":1,"x":9.57,"y":5.35},{"p":1,"x":9.62,"y":6.6},{"p":1,"x":9.65,"y":6.07},{"p":1,"x":9.7,"y":5.04},{"p":1,"x":9.74,"y":6.07},{"p":1,"x":9.8,"y":6.18},{"p":1,"x":9.86,"y":5.97},{"p":1,"x":9.92,"y":6.28},{"p":1,"x":9.99,"y":5.55},{"p":1,"x":10.06,"y":5.35},{"p":1,"x":10.13,"y":5.35},{"p":1,"x":10.16,"y":5.87},{"p":1,"x":10.21,"y":4.93},{"p":1,"x":10.28,"y":5.76},{"p":1,"x":10.32,"y":5.14},{"p":1,"x":10.38,"y":5.24},{"p":1,"x":10.45,"y":5.14},{"p":1,"x":10.52,"y":4.62},{"p":1,"x":10.57,"y":5.14},{"p":1,"x":10.62,"y":4.2},{"p":1,"x":10.71,"y":5.04},{"p":1,"x":10.76,"y":4.52},{"p":1,"x":10.81,"y":5.14},{"p":1,"x":10.86,"y":4.41},{"p":1,"x":10.91,"y":5.14},{"p":1,"x":11,"y":4.31},{"p":1,"x":11.05,"y":4.83},{"p":1,"x":11.1,"y":4.31},{"p":1,"x":11.18,"y":4.72},{"p":1,"x":11.25,"y":4.2},{"p":1,"x":11.34,"y":4.52},{"p":1,"x":11.37,"y":3.9},{"p":1,"x":11.44,"y":4.31},{"p":1,"x":11.51,"y":3.38},{"p":1,"x":11.59,"y":4.41},{"p":1,"x":11.7,"y":4.31},{"p":1,"x":11.77,"y":3.9},{"p":1,"x":11.85,"y":4.2},{"p":1,"x":11.88,"y":3.48},{"p":1,"x":11.99,"y":4.1},{"p":1,"x":12.05,"y":4.0},{"p":1,"x":12.1,"y":3.07},{"p":1,"x":12.15,"y":3.8},{"p":1,"x":12.24,"y":3.17},{"p":1,"x":12.31,"y":3.94},{"p":1,"x":12.42,"y":3.9},{"p":1,"x":12.55,"y":3.17},{"p":1,"x":12.62,"y":3.69},{"p":1,"x":12.72,"y":3.59},{"p":1,"x":12.84,"y":2.34},{"p":1,"x":12.89,"y":2.76},{"p":1,"x":12.96,"y":2.76},{"p":1,"x":13.06,"y":3.48},{"p":1,"x":13.16,"y":3.38},{"p":1,"x":13.27,"y":3.17},{"p":1,"x":13.4,"y":1.93},{"p":1,"x":13.52,"y":1.93},{"p":1,"x":13.57,"y":2.76},{"p":1,"x":13.62,"y":2.03},{"p":1,"x":13.71,"y":3.69},{"p":1,"x":13.79,"y":1.82},{"p":1,"x":13.88,"y":3.17},{"p":1,"x":14.01,"y":2.03},{"p":1,"x":14.08,"y":2.76},{"p":1,"x":14.13,"y":2.13},{"p":1,"x":14.25,"y":2.45},{"p":1,"x":14.35,"y":2.76},{"p":1,"x":14.42,"y":2.03},{"p":1,"x":14.47,"y":2.65},{"p":1,"x":14.59,"y":2.45},{"p":1,"x":14.66,"y":2.76},{"p":1,"x":14.73,"y":2.34},{"p":1,"x":14.85,"y":2.86},{"p":1,"x":14.95,"y":2.65},{"p":1,"x":15,"y":2.03},{"p":1,"x":15.09,"y":2.76},{"p":1,"x":15.15,"y":1.82},{"p":1,"x":15.24,"y":2.45},{"p":1,"x":15.37,"y":2.55},{"p":1,"x":15.48,"y":2.34},{"p":1,"x":15.56,"y":2.03},{"p":1,"x":15.65,"y":2.24},{"p":1,"x":15.75,"y":2.13},{"p":1,"x":15.87,"y":2.24},{"p":1,"x":15.95,"y":1.51},{"p":1,"x":16.02,"y":2.03},{"p":1,"x":16.11,"y":1.72},{"p":1,"x":16.22,"y":1.82},{"p":1,"x":16.33,"y":1.62},{"p":1,"x":16.43,"y":1.82},{"p":1,"x":16.53,"y":1.41},{"p":1,"x":16.63,"y":1.72},{"p":1,"x":16.75,"y":1.62},{"p":1,"x":16.84,"y":1.51},{"p":1,"x":16.92,"y":1.82},{"p":1,"x":17.01,"y":1.41},{"p":1,"x":17.11,"y":2.13},{"p":1,"x":17.19,"y":1.82},{"p":1,"x":17.3,"y":2.24},
{"p":2,"x":17.3,"y":2.18},{"p":2,"x":17.35,"y":1.65},{"p":2,"x":17.4,"y":1.69},{"p":2,"x":17.44,"y":2.23},{"p":2,"x":17.5,"y":2.13},{"p":2,"x":17.54,"y":1.98},{"p":2,"x":17.66,"y":1.94},{"p":2,"x":17.69,"y":1.89},{"p":2,"x":17.76,"y":1.16},{"p":2,"x":17.81,"y":2.23},{"p":2,"x":17.88,"y":2.18},{"p":2,"x":17.92,"y":2.08},{"p":2,"x":17.95,"y":2.25},{"p":2,"x":17.99,"y":1.79},{"p":2,"x":18.04,"y":1.76},{"p":2,"x":18.1,"y":1.65},{"p":2,"x":18.17,"y":2.18},{"p":2,"x":18.21,"y":2.23},{"p":2,"x":18.27,"y":1.5},{"p":2,"x":18.32,"y":2.08},{"p":2,"x":18.36,"y":1.98},{"p":2,"x":18.39,"y":1.65},{"p":2,"x":18.43,"y":2.13},{"p":2,"x":18.53,"y":2.13},{"p":2,"x":18.6,"y":0.97},{"p":2,"x":18.67,"y":1.94},{"p":2,"x":18.73,"y":1.98},{"p":2,"x":18.8,"y":1.55},{"p":2,"x":18.85,"y":1.6},{"p":2,"x":18.89,"y":1.94},{"p":2,"x":18.92,"y":1.96},{"p":2,"x":18.96,"y":4.26},{"p":2,"x":18.99,"y":3.68},{"p":2,"x":19.04,"y":1.74},{"p":2,"x":19.09,"y":1.4},{"p":2,"x":19.14,"y":1.4},{"p":2,"x":19.18,"y":2.03},{"p":2,"x":19.24,"y":2.13},{"p":2,"x":19.28,"y":1.84},{"p":2,"x":19.33,"y":0.77},{"p":2,"x":19.38,"y":1.65},{"p":2,"x":19.41,"y":2.08},{"p":2,"x":19.53,"y":2.05},{"p":2,"x":19.6,"y":2.03},{"p":2,"x":19.74,"y":2.03},{"p":2,"x":19.79,"y":1.55},{"p":2,"x":19.82,"y":1.74},{"p":2,"x":19.86,"y":1.65},{"p":2,"x":19.91,"y":0.97},{"p":2,"x":19.98,"y":1.94},{"p":2,"x":20.15,"y":1.94},{"p":2,"x":20.25,"y":1.79},{"p":2,"x":20.33,"y":1.94},{"p":2,"x":20.52,"y":1.94},{"p":2,"x":20.61,"y":1.84},{"p":2,"x":20.66,"y":1.89},{"p":2,"x":20.71,"y":1.26},{"p":2,"x":20.79,"y":1.65},{"p":2,"x":20.83,"y":1.74},{"p":2,"x":20.88,"y":1.16},{"p":2,"x":20.96,"y":1.79},{"p":2,"x":21.17,"y":1.76},{"p":2,"x":21.24,"y":1.79},{"p":2,"x":21.32,"y":1.79},{"p":2,"x":21.41,"y":1.6},{"p":2,"x":21.44,"y":1.69},{"p":2,"x":21.55,"y":1.02},{"p":2,"x":21.61,"y":1.74},{"p":2,"x":21.65,"y":1.98},{"p":2,"x":21.7,"y":1.78},{"p":2,"x":21.76,"y":2.03},{"p":2,"x":21.8,"y":1.6},{"p":2,"x":21.87,"y":1.26},{"p":2,"x":21.9,"y":1.69},{"p":2,"x":21.93,"y":1.45},{"p":2,"x":21.98,"y":0.68},{"p":2,"x":22.03,"y":1.79},{"p":2,"x":22.09,"y":4.99},{"p":2,"x":22.11,"y":5.47},{"p":2,"x":22.15,"y":3.19},{"p":2,"x":22.19,"y":1.69},{"p":2,"x":22.24,"y":1.65},{"p":2,"x":22.32,"y":0.77},{"p":2,"x":22.38,"y":1.4},{"p":2,"x":22.46,"y":1.4},{"p":2,"x":22.51,"y":1.36},{"p":2,"x":22.56,"y":1.47},{"p":2,"x":22.63,"y":0.48},{"p":2,"x":22.71,"y":0.77},{"p":2,"x":22.75,"y":1.45},{"p":2,"x":22.82,"y":1.55},{"p":2,"x":22.87,"y":1.36},{"p":2,"x":22.94,"y":1.36},{"p":2,"x":22.99,"y":1.06},{"p":2,"x":23.06,"y":1.21},{"p":2,"x":23.11,"y":1.55},{"p":2,"x":23.18,"y":1.5},{"p":2,"x":23.25,"y":1.21},{"p":2,"x":23.32,"y":1.55},{"p":2,"x":23.56,"y":1.5},{"p":2,"x":23.69,"y":1.47},{"p":2,"x":23.76,"y":0.97},{"p":2,"x":23.83,"y":1.45},{"p":2,"x":24,"y":1.45},{"p":2,"x":24.05,"y":1.26},{"p":2,"x":24.1,"y":0.97},{"p":2,"x":24.17,"y":1.4},{"p":2,"x":24.34,"y":1.4},{"p":2,"x":24.46,"y":1.37},{"p":2,"x":24.53,"y":1.21},{"p":2,"x":24.6,"y":1.36},{"p":2,"x":24.65,"y":1.36},{"p":2,"x":24.73,"y":0.68},{"p":2,"x":24.8,"y":1.36},{"p":2,"x":24.87,"y":0.73},{"p":2,"x":24.94,"y":1.34},{"p":2,"x":25.23,"y":1.37},{"p":2,"x":25.31,"y":1.21},{"p":2,"x":25.4,"y":1.21},{"p":2,"x":25.47,"y":1.14},{"p":2,"x":25.54,"y":1.11},{"p":2,"x":25.6,"y":1.21},{"p":2,"x":25.67,"y":1.16},{"p":2,"x":25.74,"y":1.28},{"p":2,"x":25.81,"y":1.11},{"p":2,"x":25.87,"y":1.21},{"p":2,"x":25.94,"y":1.11},{"p":2,"x":26.03,"y":0.87},{"p":2,"x":26.08,"y":1.28},{"p":2,"x":26.25,"y":1.26},{"p":2,"x":26.35,"y":0.73},{"p":2,"x":26.4,"y":1.21},{"p":2,"x":26.6,"y":1.24},
{"p":3,"x":26.61,"y":1.22},{"p":3,"x":26.68,"y":1.19},{"p":3,"x":26.73,"y":1.21},{"p":3,"x":26.85,"y":1.2},{"p":3,"x":26.9,"y":1.09},{"p":3,"x":26.95,"y":0.47},{"p":3,"x":27.03,"y":1.19},{"p":3,"x":27.17,"y":1.18},{"p":3,"x":27.34,"y":1.16},{"p":3,"x":27.39,"y":1.13},{"p":3,"x":27.42,"y":1.02},{"p":3,"x":27.47,"y":1.04},{"p":3,"x":27.53,"y":1.14},{"p":3,"x":27.68,"y":1.13},{"p":3,"x":27.8,"y":1.12},{"p":3,"x":27.85,"y":1.01},{"p":3,"x":27.88,"y":1.07},{"p":3,"x":27.97,"y":1.09},{"p":3,"x":28.12,"y":1.08},{"p":3,"x":28.17,"y":1.0},{"p":3,"x":28.22,"y":1.07},{"p":3,"x":28.32,"y":1.08},{"p":3,"x":28.36,"y":1.02},{"p":3,"x":28.42,"y":0.47},{"p":3,"x":28.51,"y":1.08},{"p":3,"x":28.64,"y":1.05},{"p":3,"x":28.67,"y":0.91},{"p":3,"x":28.75,"y":0.47},{"p":3,"x":28.8,"y":1.0},{"p":3,"x":28.85,"y":1.02},{"p":3,"x":28.9,"y":0.98},{"p":3,"x":28.95,"y":1.02},{"p":3,"x":29.02,"y":1.02},{"p":3,"x":29.08,"y":1.05},{"p":3,"x":29.15,"y":1.0},{"p":3,"x":29.22,"y":0.99},{"p":3,"x":29.29,"y":0.96},{"p":3,"x":29.32,"y":0.98},{"p":3,"x":29.42,"y":0.99},{"p":3,"x":29.47,"y":1.22},{"p":3,"x":29.53,"y":1.51},{"p":3,"x":29.61,"y":1.02},{"p":3,"x":29.66,"y":0.91},{"p":3,"x":29.71,"y":0.56},{"p":3,"x":29.78,"y":0.96},{"p":3,"x":29.92,"y":0.94},{"p":3,"x":29.98,"y":0.91},{"p":3,"x":30.07,"y":0.91},{"p":3,"x":30.17,"y":0.69},{"p":3,"x":30.22,"y":0.89},{"p":3,"x":30.27,"y":0.82},{"p":3,"x":30.32,"y":0.89},{"p":3,"x":30.4,"y":0.51},{"p":3,"x":30.49,"y":0.92},{"p":3,"x":30.63,"y":0.88},{"p":3,"x":30.69,"y":0.9},{"p":3,"x":30.86,"y":0.89},{"p":3,"x":30.95,"y":0.69},{"p":3,"x":31.05,"y":0.89},{"p":3,"x":31.32,"y":0.87},{"p":3,"x":31.42,"y":0.91},{"p":3,"x":31.53,"y":0.95},{"p":3,"x":31.63,"y":0.8},{"p":3,"x":31.81,"y":0.8},{"p":3,"x":31.9,"y":0.78},{"p":3,"x":32,"y":0.64},{"p":3,"x":32.05,"y":0.91},{"p":3,"x":32.1,"y":0.87},{"p":3,"x":32.15,"y":0.53},{"p":3,"x":32.2,"y":0.64},{"p":3,"x":32.25,"y":0.98},{"p":3,"x":32.31,"y":0.91},{"p":3,"x":32.36,"y":0.64},{"p":3,"x":32.46,"y":0.93},{"p":3,"x":32.54,"y":0.89},{"p":3,"x":32.61,"y":0.8},{"p":3,"x":32.66,"y":0.87},{"p":3,"x":32.71,"y":0.53},{"p":3,"x":32.81,"y":0.92},{"p":3,"x":32.9,"y":0.89},{"p":3,"x":33.31,"y":0.88},{"p":3,"x":33.37,"y":0.4},{"p":3,"x":33.44,"y":0.69},{"p":3,"x":33.49,"y":0.73},{"p":3,"x":33.54,"y":0.89},{"p":3,"x":33.59,"y":0.82},{"p":3,"x":33.63,"y":0.62},{"p":3,"x":33.67,"y":0.8},{"p":3,"x":33.72,"y":1.44},{"p":3,"x":33.78,"y":1.13},{"p":3,"x":33.85,"y":0.83},{"p":3,"x":33.98,"y":0.82},{"p":3,"x":34.05,"y":0.76},{"p":3,"x":34.1,"y":0.78},{"p":3,"x":34.2,"y":0.46},{"p":3,"x":34.27,"y":0.58},{"p":3,"x":34.32,"y":0.69},{"p":3,"x":34.37,"y":0.8},{"p":3,"x":34.4,"y":0.79},{"p":3,"x":34.46,"y":0.62},{"p":3,"x":34.53,"y":0.8},{"p":3,"x":34.81,"y":0.79},{"p":3,"x":34.86,"y":0.6},{"p":3,"x":34.93,"y":0.36},{"p":3,"x":35.02,"y":0.76},{"p":3,"x":35.07,"y":0.76},{"p":3,"x":35.14,"y":0.69},{"p":3,"x":35.24,"y":0.82},{"p":3,"x":35.31,"y":0.78},{"p":3,"x":35.61,"y":0.78},{"p":3,"x":35.69,"y":0.76},{"p":3,"x":35.78,"y":0.64},{"p":3,"x":35.83,"y":0.58},{"p":3,"x":35.9,"y":0.36}
],
"ann": [
{"p":1,"x":9.229,"x2":9.229,"y":10.01,"y2":11.38},{"p":1,"x":10.02,"x2":10.02,"y":7.63,"y2":9.53},{"p":1,"x":10.234,"x2":10.234,"y":8.77,"y2":11.15},{"p":1,"x":10.574,"x2":10.574,"y":6.72,"y2":9.08},{"p":1,"x":12.127,"x2":12.127,"y":8.02,"y2":10.51},{"p":1,"x":12.303,"x2":12.303,"y":5.66,"y2":8.04},{"p":1,"x":14.21,"x2":14.21,"y":3.9,"y2":5.6},{"p":1,"x":15.153,"x2":15.153,"y":3.92,"y2":5.66},{"p":1,"x":15.991,"x2":15.991,"y":3.92,"y2":5.66},{"p":1,"x":13.44,"x2":13.44,"y":4.62,"y2":6.64},{"p":1,"x":13.553,"x2":13.553,"y":4.62,"y2":6.64},{"p":1,"x":13.696,"x2":13.696,"y":4.62,"y2":6.64},{"p":1,"x":13.44,"x2":13.696,"y":6.64,"y2":6.64},
{"p":2,"x":17.3,"x2":22.103,"y":5.98,"y2":5.98},{"p":2,"x":17.395,"x2":17.395,"y":5.27,"y2":5.98},{"p":2,"x":17.763,"x2":17.763,"y":5.27,"y2":5.98},{"p":2,"x":18.631,"x2":18.631,"y":5.27,"y2":5.98},{"p":2,"x":21.62,"x2":21.62,"y":5.27,"y2":5.98},{"p":2,"x":21.807,"x2":21.807,"y":5.27,"y2":5.98},{"p":2,"x":22.103,"x2":22.103,"y":5.27,"y2":5.98},{"p":2,"x":18.962,"x2":18.962,"y":4.53,"y2":4.84},{"p":2,"x":19.131,"x2":19.335,"y":3.79,"y2":3.79},{"p":2,"x":19.131,"x2":19.131,"y":3.08,"y2":3.79},{"p":2,"x":19.335,"x2":19.335,"y":3.08,"y2":3.79},{"p":2,"x":19.823,"x2":19.823,"y":3.27,"y2":3.92},{"p":2,"x":19.554,"x2":19.554,"y":2.3,"y2":2.98},{"p":2,"x":21.406,"x2":21.406,"y":2.32,"y2":3.0},{"p":2,"x":21.876,"x2":22.012,"y":4.57,"y2":4.57},{"p":2,"x":21.876,"x2":21.876,"y":4.01,"y2":4.57},{"p":2,"x":22.012,"x2":22.012,"y":4.01,"y2":4.57},{"p":2,"x":22.325,"x2":22.325,"y":3.31,"y2":3.92},{"p":2,"x":22.751,"x2":22.751,"y":2.54,"y2":3.15},{"p":2,"x":23.051,"x2":23.051,"y":2.08,"y2":2.66},{"p":2,"x":23.763,"x2":23.763,"y":2.5,"y2":3.15},{"p":2,"x":24.783,"x2":24.783,"y":2.4,"y2":3.05},
{"p":3,"x":27.0,"x2":27.0,"y":1.75,"y2":2.08},{"p":3,"x":28.466,"x2":28.466,"y":1.78,"y2":2.11},{"p":3,"x":28.782,"x2":29.546,"y":2.445,"y2":2.445},{"p":3,"x":28.782,"x2":28.782,"y":2.11,"y2":2.445},{"p":3,"x":29.088,"x2":29.088,"y":2.11,"y2":2.445},{"p":3,"x":29.546,"x2":29.546,"y":2.11,"y2":2.445},{"p":3,"x":29.749,"x2":29.749,"y":1.81,"y2":2.13},{"p":3,"x":33.432,"x2":33.432,"y":1.84,"y2":2.18},{"p":3,"x":33.737,"x2":33.737,"y":1.8,"y2":2.18},{"p":3,"x":34.257,"x2":34.257,"y":1.0,"y2":1.31},{"p":3,"x":34.536,"x2":34.536,"y":1.0,"y2":1.31},{"p":3,"x":34.966,"x2":34.966,"y":1.84,"y2":2.18}
],
"bigh": [
{"p":1,"t":"Mg","x":8.843,"y":11.69},{"p":1,"t":"Na","x":9.593,"y":9.7},{"p":1,"t":"Ne","x":9.941,"y":11.57},{"p":1,"t":"Lyβ","x":10.492,"y":11.57},{"p":1,"t":"Fe","x":10.441,"y":9.33},{"p":1,"t":"Ne","x":11.555,"y":11.19},{"p":1,"t":"Lyα","x":12.086,"y":11.19},{"p":1,"t":"art","x":12.239,"y":8.64},{"p":1,"t":"Ne","x":13.291,"y":7.09},{"p":1,"t":"r","x":13.301,"y":4.85},{"p":1,"t":"i","x":13.465,"y":4.85},{"p":1,"t":"f","x":13.587,"y":4.85},{"p":1,"t":"Fe","x":14.027,"y":6.03},
{"p":2,"t":"O","x":18.784,"y":4.98},{"p":2,"t":"Lyα","x":19.414,"y":4.98},{"p":2,"t":"O","x":19.064,"y":3.92},{"p":2,"t":"N","x":19.652,"y":4.07},{"p":2,"t":"art","x":19.458,"y":3.15},{"p":2,"t":"O","x":20.214,"y":5.37},{"p":2,"t":"art","x":21.174,"y":3.15},{"p":2,"t":"r","x":21.475,"y":5.32},{"p":2,"t":"i","x":21.713,"y":5.32},{"p":2,"t":"f","x":21.968,"y":5.32},{"p":2,"t":"O","x":21.685,"y":4.65},
{"p":3,"t":"N","x":28.9,"y":2.51},{"p":3,"t":"r","x":28.833,"y":2.165},{"p":3,"t":"i","x":29.155,"y":2.165},{"p":3,"t":"f","x":29.403,"y":2.165}
],
"smallh": [
{"p":1,"t":"XI","x":9.226,"y":11.69},{"p":1,"t":"XI","x":9.941,"y":9.7},{"p":1,"t":"X","x":10.288,"y":11.57},{"p":1,"t":"XVIII","x":10.737,"y":9.33},{"p":1,"t":"X","x":11.902,"y":11.19},{"p":1,"t":"IX","x":13.618,"y":7.09},{"p":1,"t":"XVIII","x":14.333,"y":6.03},
{"p":2,"t":"VIII","x":19.006,"y":4.98},{"p":2,"t":"VI","x":19.295,"y":3.92},{"p":2,"t":"VII","x":19.84,"y":4.07},{"p":2,"t":"VII","x":20.418,"y":5.37},{"p":2,"t":"VI","x":21.876,"y":4.65},
{"p":3,"t":"VI","x":29.121,"y":2.51}
],
"bigv": [
{"p":1,"t":"O","x":15.242,"y":5.97},{"p":1,"t":"Lyγ","x":15.242,"y":9.62},{"p":1,"t":"O","x":16.059,"y":5.97},{"p":1,"t":"Lyβ","x":16.059,"y":9.62},
{"p":2,"t":"O","x":22.46,"y":4.07},{"p":2,"t":"O","x":22.843,"y":3.27},{"p":2,"t":"O","x":23.16,"y":2.85},{"p":2,"t":"N","x":23.837,"y":3.41},{"p":2,"t":"N","x":24.879,"y":3.24},
{"p":3,"t":"C","x":27.085,"y":2.18},{"p":3,"t":"C","x":28.561,"y":2.22},{"p":3,"t":"N","x":29.851,"y":2.21},{"p":3,"t":"C","x":33.534,"y":2.25},{"p":3,"t":"C","x":33.897,"y":2.21},{"p":3,"t":"S","x":34.423,"y":1.36},{"p":3,"t":"S","x":34.855,"y":1.4},{"p":3,"t":"C","x":35.079,"y":2.25}
],
"smallv": [
{"p":1,"t":"VIII","x":15.242,"y":7.33},{"p":1,"t":"VIII","x":16.059,"y":7.33},
{"p":2,"t":"V","x":22.46,"y":4.71},{"p":2,"t":"IV","x":22.843,"y":3.91},{"p":2,"t":"III","x":23.16,"y":3.49},{"p":2,"t":"VI","x":23.837,"y":4.05},{"p":2,"t":"VII","x":24.879,"y":3.88},
{"p":3,"t":"VI","x":27.085,"y":2.47},{"p":3,"t":"VI","x":28.561,"y":2.51},{"p":3,"t":"V","x":29.851,"y":2.52},{"p":3,"t":"V","x":33.534,"y":2.54},{"p":3,"t":"VI","x":33.897,"y":2.5},{"p":3,"t":"XII","x":34.423,"y":1.61},{"p":3,"t":"XII","x":34.855,"y":1.65},{"p":3,"t":"V","x":35.079,"y":2.54}
]
},
"vconcat": [
{
 "width": 911, "height": 225,
 "resolve": {"axis": {"x": "independent", "y": "independent"}},
 "layer": [
  {"data": {"name": "obs"}, "transform": [{"filter": "datum.p == 1"}], "mark": {"type": "errorbar", "color": "#3a3a3a", "thickness": 1.2},
   "encoding": {"x": {"field": "x", "type": "quantitative", "axis": null}, "y": {"field": "y", "type": "quantitative", "axis": null}, "yError": {"field": "e"}}},
  {"data": {"name": "smooth"}, "transform": [{"filter": "datum.p == 1"}], "mark": {"type": "line", "color": "black", "strokeWidth": 0.9},
   "encoding": {"x": {"field": "x", "type": "quantitative", "axis": {"orient": "bottom", "values": [8.2,8.4,8.6,8.8,9.2,9.4,9.6,9.8,10.2,10.4,10.6,10.8,11.2,11.4,11.6,11.8,12.2,12.4,12.6,12.8,13.2,13.4,13.6,13.8,14.2,14.4,14.6,14.8,15.2,15.4,15.6,15.8,16.2,16.4,16.6,16.8,17.2], "tickSize": -7, "labels": false, "title": null}},
    "y": {"field": "y", "type": "quantitative", "axis": {"orient": "left", "values": [1,2,3,5,6,7,9,10,11,13], "tickSize": -7, "labels": false, "title": null}}}},
  {"data": {"name": "obs"}, "transform": [{"filter": "datum.p == 1"}], "mark": {"type": "line", "color": "black", "strokeWidth": 1},
   "encoding": {"x": {"field": "x", "type": "quantitative", "scale": {"domain": [8, 17.3], "nice": false, "zero": false}, "axis": {"orient": "bottom", "values": [8,9,10,11,12,13,14,15,16,17], "tickSize": -13, "labelPadding": 19, "labelExpr": "'' + datum.value", "title": null}},
    "y": {"field": "y", "type": "quantitative", "scale": {"domain": [0, 14], "nice": false, "zero": false, "clamp": true}, "axis": {"orient": "left", "values": [0,4,8,12], "tickSize": -13, "labelPadding": 24, "labelExpr": "'' + datum.value", "title": null}}}},
  {"data": {"name": "model"}, "transform": [{"filter": "datum.p == 1"}], "mark": {"type": "line", "color": "#ec1c24", "strokeWidth": 2.8},
   "encoding": {"x": {"field": "x", "type": "quantitative", "axis": {"orient": "top", "values": [8,9,10,11,12,13,14,15,16,17], "tickSize": -13, "labels": false, "title": null}},
    "y": {"field": "y", "type": "quantitative", "axis": {"orient": "right", "values": [0,4,8,12], "tickSize": -13, "labels": false, "title": null}}}},
  {"data": {"name": "ann"}, "transform": [{"filter": "datum.p == 1"}], "mark": {"type": "rule", "color": "black", "strokeWidth": 1.8},
   "encoding": {"x": {"field": "x", "type": "quantitative", "axis": {"orient": "top", "values": [8.2,8.4,8.6,8.8,9.2,9.4,9.6,9.8,10.2,10.4,10.6,10.8,11.2,11.4,11.6,11.8,12.2,12.4,12.6,12.8,13.2,13.4,13.6,13.8,14.2,14.4,14.6,14.8,15.2,15.4,15.6,15.8,16.2,16.4,16.6,16.8,17.2], "tickSize": -7, "labels": false, "title": null}}, "x2": {"field": "x2"},
    "y": {"field": "y", "type": "quantitative", "axis": {"orient": "right", "values": [1,2,3,5,6,7,9,10,11,13], "tickSize": -7, "labels": false, "title": null}}, "y2": {"field": "y2"}}},
  {"data": {"name": "bigh"}, "transform": [{"filter": "datum.p == 1"}], "mark": {"type": "text", "align": "left", "baseline": "alphabetic", "font": "Liberation Serif", "fontSize": 23, "color": "black"},
   "encoding": {"x": {"field": "x", "type": "quantitative", "axis": null}, "y": {"field": "y", "type": "quantitative", "axis": null}, "text": {"field": "t"}}},
  {"data": {"name": "smallh"}, "transform": [{"filter": "datum.p == 1"}], "mark": {"type": "text", "align": "left", "baseline": "alphabetic", "font": "Liberation Serif", "fontSize": 18, "color": "black"},
   "encoding": {"x": {"field": "x", "type": "quantitative", "axis": null}, "y": {"field": "y", "type": "quantitative", "axis": null}, "text": {"field": "t"}}},
  {"data": {"name": "bigv"}, "transform": [{"filter": "datum.p == 1"}], "mark": {"type": "text", "align": "left", "baseline": "alphabetic", "angle": 270, "font": "Liberation Serif", "fontSize": 23, "color": "black"},
   "encoding": {"x": {"field": "x", "type": "quantitative", "axis": null}, "y": {"field": "y", "type": "quantitative", "axis": null}, "text": {"field": "t"}}},
  {"data": {"name": "smallv"}, "transform": [{"filter": "datum.p == 1"}], "mark": {"type": "text", "align": "left", "baseline": "alphabetic", "angle": 270, "font": "Liberation Serif", "fontSize": 18, "color": "black"},
   "encoding": {"x": {"field": "x", "type": "quantitative", "axis": null}, "y": {"field": "y", "type": "quantitative", "axis": null}, "text": {"field": "t"}}}
 ]
},
{
 "width": 911, "height": 225,
 "resolve": {"axis": {"x": "independent", "y": "independent"}},
 "layer": [
  {"data": {"name": "obs"}, "transform": [{"filter": "datum.p == 2"}], "mark": {"type": "errorbar", "color": "#3a3a3a", "thickness": 1.2},
   "encoding": {"x": {"field": "x", "type": "quantitative", "axis": null}, "y": {"field": "y", "type": "quantitative", "axis": null}, "yError": {"field": "e"}}},
  {"data": {"name": "smooth"}, "transform": [{"filter": "datum.p == 2"}], "mark": {"type": "line", "color": "black", "strokeWidth": 0.9},
   "encoding": {"x": {"field": "x", "type": "quantitative", "axis": {"orient": "bottom", "values": [17.4,17.6,17.8,18.2,18.4,18.6,18.8,19.2,19.4,19.6,19.8,20.2,20.4,20.6,20.8,21.2,21.4,21.6,21.8,22.2,22.4,22.6,22.8,23.2,23.4,23.6,23.8,24.2,24.4,24.6,24.8,25.2,25.4,25.6,25.8,26.2,26.4], "tickSize": -7, "labels": false, "title": null}},
    "y": {"field": "y", "type": "quantitative", "axis": {"orient": "left", "values": [0.5,1.5,2.5,3.5,4.5,5.5], "tickSize": -7, "labels": false, "title": null}}}},
  {"data": {"name": "obs"}, "transform": [{"filter": "datum.p == 2"}], "mark": {"type": "line", "color": "black", "strokeWidth": 1},
   "encoding": {"x": {"field": "x", "type": "quantitative", "scale": {"domain": [17.3, 26.6], "nice": false, "zero": false}, "axis": {"orient": "bottom", "values": [18,19,20,21,22,23,24,25,26], "tickSize": -13, "labelPadding": 19, "labelExpr": "'' + datum.value", "title": null}},
    "y": {"field": "y", "type": "quantitative", "scale": {"domain": [0, 6.53], "nice": false, "zero": false, "clamp": true}, "axis": {"orient": "left", "values": [1,2,3,4,5,6], "tickSize": -13, "labelPadding": 24, "labelExpr": "'' + datum.value", "title": "Flux [10⁻¹³ ergs cm⁻² s⁻¹ Å⁻¹]", "titlePadding": 8}}}},
  {"data": {"name": "model"}, "transform": [{"filter": "datum.p == 2"}], "mark": {"type": "line", "color": "#ec1c24", "strokeWidth": 2.8},
   "encoding": {"x": {"field": "x", "type": "quantitative", "axis": {"orient": "top", "values": [18,19,20,21,22,23,24,25,26], "tickSize": -13, "labels": false, "title": null}},
    "y": {"field": "y", "type": "quantitative", "axis": {"orient": "right", "values": [1,2,3,4,5,6], "tickSize": -13, "labels": false, "title": null}}}},
  {"data": {"name": "ann"}, "transform": [{"filter": "datum.p == 2"}], "mark": {"type": "rule", "color": "black", "strokeWidth": 1.8},
   "encoding": {"x": {"field": "x", "type": "quantitative", "axis": {"orient": "top", "values": [17.4,17.6,17.8,18.2,18.4,18.6,18.8,19.2,19.4,19.6,19.8,20.2,20.4,20.6,20.8,21.2,21.4,21.6,21.8,22.2,22.4,22.6,22.8,23.2,23.4,23.6,23.8,24.2,24.4,24.6,24.8,25.2,25.4,25.6,25.8,26.2,26.4], "tickSize": -7, "labels": false, "title": null}}, "x2": {"field": "x2"},
    "y": {"field": "y", "type": "quantitative", "axis": {"orient": "right", "values": [0.5,1.5,2.5,3.5,4.5,5.5], "tickSize": -7, "labels": false, "title": null}}, "y2": {"field": "y2"}}},
  {"data": {"name": "bigh"}, "transform": [{"filter": "datum.p == 2"}], "mark": {"type": "text", "align": "left", "baseline": "alphabetic", "font": "Liberation Serif", "fontSize": 23, "color": "black"},
   "encoding": {"x": {"field": "x", "type": "quantitative", "axis": null}, "y": {"field": "y", "type": "quantitative", "axis": null}, "text": {"field": "t"}}},
  {"data": {"name": "smallh"}, "transform": [{"filter": "datum.p == 2"}], "mark": {"type": "text", "align": "left", "baseline": "alphabetic", "font": "Liberation Serif", "fontSize": 18, "color": "black"},
   "encoding": {"x": {"field": "x", "type": "quantitative", "axis": null}, "y": {"field": "y", "type": "quantitative", "axis": null}, "text": {"field": "t"}}},
  {"data": {"name": "bigv"}, "transform": [{"filter": "datum.p == 2"}], "mark": {"type": "text", "align": "left", "baseline": "alphabetic", "angle": 270, "font": "Liberation Serif", "fontSize": 23, "color": "black"},
   "encoding": {"x": {"field": "x", "type": "quantitative", "axis": null}, "y": {"field": "y", "type": "quantitative", "axis": null}, "text": {"field": "t"}}},
  {"data": {"name": "smallv"}, "transform": [{"filter": "datum.p == 2"}], "mark": {"type": "text", "align": "left", "baseline": "alphabetic", "angle": 270, "font": "Liberation Serif", "fontSize": 18, "color": "black"},
   "encoding": {"x": {"field": "x", "type": "quantitative", "axis": null}, "y": {"field": "y", "type": "quantitative", "axis": null}, "text": {"field": "t"}}}
 ]
},
{
 "width": 911, "height": 225,
 "resolve": {"axis": {"x": "independent", "y": "independent"}},
 "layer": [
  {"data": {"name": "obs"}, "transform": [{"filter": "datum.p == 3"}], "mark": {"type": "errorbar", "color": "#3a3a3a", "thickness": 1.2},
   "encoding": {"x": {"field": "x", "type": "quantitative", "axis": null}, "y": {"field": "y", "type": "quantitative", "axis": null}, "yError": {"field": "e"}}},
  {"data": {"name": "smooth"}, "transform": [{"filter": "datum.p == 3"}], "mark": {"type": "line", "color": "black", "strokeWidth": 0.9},
   "encoding": {"x": {"field": "x", "type": "quantitative", "axis": {"orient": "bottom", "values": [26.8,27.2,27.4,27.6,27.8,28.2,28.4,28.6,28.8,29.2,29.4,29.6,29.8,30.2,30.4,30.6,30.8,31.2,31.4,31.6,31.8,32.2,32.4,32.6,32.8,33.2,33.4,33.6,33.8,34.2,34.4,34.6,34.8,35.2,35.4,35.6,35.8], "tickSize": -7, "labels": false, "title": null}},
    "y": {"field": "y", "type": "quantitative", "axis": {"orient": "left", "values": [0.25,0.75,1.25,1.75,2.25,2.75], "tickSize": -7, "labels": false, "title": null}}}},
  {"data": {"name": "obs"}, "transform": [{"filter": "datum.p == 3"}], "mark": {"type": "line", "color": "black", "strokeWidth": 1},
   "encoding": {"x": {"field": "x", "type": "quantitative", "scale": {"domain": [26.6, 35.9], "nice": false, "zero": false}, "axis": {"orient": "bottom", "values": [27,28,29,30,31,32,33,34,35], "tickSize": -13, "labelPadding": 19, "labelExpr": "'' + datum.value", "title": "Rest Wavelength [Å]", "titlePadding": 2}},
    "y": {"field": "y", "type": "quantitative", "scale": {"domain": [0, 3], "nice": false, "zero": false, "clamp": true}, "axis": {"orient": "left", "values": [0,0.5,1,1.5,2,2.5,3], "tickSize": -13, "labelPadding": 24, "labelExpr": "'' + datum.value", "title": null}}}},
  {"data": {"name": "model"}, "transform": [{"filter": "datum.p == 3"}], "mark": {"type": "line", "color": "#ec1c24", "strokeWidth": 2.8},
   "encoding": {"x": {"field": "x", "type": "quantitative", "axis": {"orient": "top", "values": [27,28,29,30,31,32,33,34,35], "tickSize": -13, "labels": false, "title": null}},
    "y": {"field": "y", "type": "quantitative", "axis": {"orient": "right", "values": [0.5,1,1.5,2,2.5], "tickSize": -13, "labels": false, "title": null}}}},
  {"data": {"name": "ann"}, "transform": [{"filter": "datum.p == 3"}], "mark": {"type": "rule", "color": "black", "strokeWidth": 1.8},
   "encoding": {"x": {"field": "x", "type": "quantitative", "axis": {"orient": "top", "values": [26.8,27.2,27.4,27.6,27.8,28.2,28.4,28.6,28.8,29.2,29.4,29.6,29.8,30.2,30.4,30.6,30.8,31.2,31.4,31.6,31.8,32.2,32.4,32.6,32.8,33.2,33.4,33.6,33.8,34.2,34.4,34.6,34.8,35.2,35.4,35.6,35.8], "tickSize": -7, "labels": false, "title": null}}, "x2": {"field": "x2"},
    "y": {"field": "y", "type": "quantitative", "axis": {"orient": "right", "values": [0.25,0.75,1.25,1.75,2.25,2.75], "tickSize": -7, "labels": false, "title": null}}, "y2": {"field": "y2"}}},
  {"data": {"name": "bigh"}, "transform": [{"filter": "datum.p == 3"}], "mark": {"type": "text", "align": "left", "baseline": "alphabetic", "font": "Liberation Serif", "fontSize": 23, "color": "black"},
   "encoding": {"x": {"field": "x", "type": "quantitative", "axis": null}, "y": {"field": "y", "type": "quantitative", "axis": null}, "text": {"field": "t"}}},
  {"data": {"name": "smallh"}, "transform": [{"filter": "datum.p == 3"}], "mark": {"type": "text", "align": "left", "baseline": "alphabetic", "font": "Liberation Serif", "fontSize": 18, "color": "black"},
   "encoding": {"x": {"field": "x", "type": "quantitative", "axis": null}, "y": {"field": "y", "type": "quantitative", "axis": null}, "text": {"field": "t"}}},
  {"data": {"name": "bigv"}, "transform": [{"filter": "datum.p == 3"}], "mark": {"type": "text", "align": "left", "baseline": "alphabetic", "angle": 270, "font": "Liberation Serif", "fontSize": 23, "color": "black"},
   "encoding": {"x": {"field": "x", "type": "quantitative", "axis": null}, "y": {"field": "y", "type": "quantitative", "axis": null}, "text": {"field": "t"}}},
  {"data": {"name": "smallv"}, "transform": [{"filter": "datum.p == 3"}], "mark": {"type": "text", "align": "left", "baseline": "alphabetic", "angle": 270, "font": "Liberation Serif", "fontSize": 18, "color": "black"},
   "encoding": {"x": {"field": "x", "type": "quantitative", "axis": null}, "y": {"field": "y", "type": "quantitative", "axis": null}, "text": {"field": "t"}}}
 ]
}
]
}
